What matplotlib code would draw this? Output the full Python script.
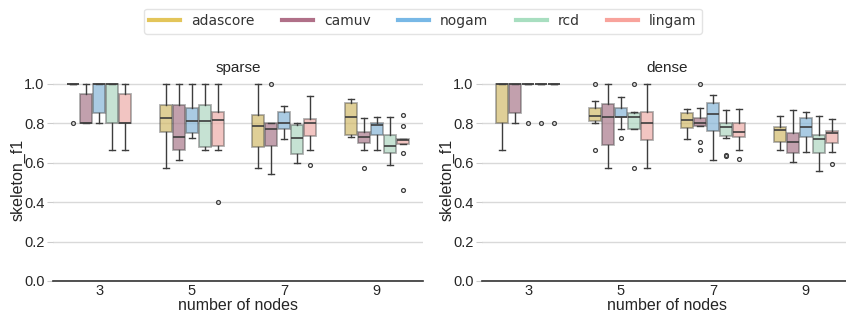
import colorsys
import matplotlib
matplotlib.use("Agg")
import matplotlib.pyplot as plt
import matplotlib.colors as mcolors
from matplotlib.lines import Line2D

methods = ["adascore", "camuv", "nogam", "rcd", "lingam"]
nodes = ["3", "5", "7", "9"]
colors = ["#E3C55A", "#B07088", "#78B8E6", "#A8DEC0", "#F8A39C"]

# ---- sparse: rows = number of nodes, columns = methods ----
sparse_q1 = [[1.0, 0.8, 0.85, 0.8, 0.8],
             [0.755, 0.667, 0.75, 0.682, 0.687],
             [0.68, 0.686, 0.77, 0.643, 0.737],
             [0.74, 0.702, 0.74, 0.65, 0.694]]
sparse_med = [[1.0, 0.8, 1.0, 1.0, 0.8],
              [0.828, 0.733, 0.812, 0.812, 0.815],
              [0.785, 0.769, 0.8, 0.727, 0.8],
              [0.834, 0.731, 0.79, 0.685, 0.714]]
sparse_q3 = [[1.0, 0.947, 1.0, 1.0, 0.95],
             [0.893, 0.893, 0.88, 0.893, 0.857],
             [0.84, 0.8, 0.856, 0.792, 0.822],
             [0.902, 0.755, 0.8, 0.74, 0.719]]
sparse_lo = [[1.0, 0.8, 0.8, 0.667, 0.667],
             [0.571, 0.615, 0.727, 0.667, 0.667],
             [0.571, 0.545, 0.72, 0.6, 0.667],
             [0.729, 0.667, 0.667, 0.588, 0.694]]
sparse_hi = [[1.0, 1.0, 1.0, 1.0, 1.0],
             [1.0, 1.0, 1.0, 1.0, 1.0],
             [1.0, 0.8, 0.889, 0.8, 0.941],
             [0.922, 0.826, 0.831, 0.831, 0.719]]
sparse_fliers = [[[0.8], [], [], [], []],
                 [[], [], [], [], [0.4]],
                 [[], [1.0], [], [], [0.588]],
                 [[], [0.571], [], [], [0.842, 0.786, 0.647, 0.462]]]

# ---- dense ----
dense_q1 = [[0.8, 0.852, 1.0, 1.0, 1.0],
            [0.811, 0.692, 0.833, 0.772, 0.717],
            [0.777, 0.788, 0.762, 0.737, 0.73],
            [0.705, 0.649, 0.73, 0.649, 0.7]]
dense_med = [[1.0, 1.0, 1.0, 1.0, 1.0],
             [0.835, 0.833, 0.833, 0.833, 0.8],
             [0.816, 0.804, 0.848, 0.782, 0.757],
             [0.764, 0.705, 0.781, 0.723, 0.75]]
dense_q3 = [[1.0, 1.0, 1.0, 1.0, 1.0],
            [0.88, 0.897, 0.88, 0.853, 0.857],
            [0.852, 0.828, 0.904, 0.8, 0.8],
            [0.781, 0.75, 0.825, 0.74, 0.759]]
dense_lo = [[0.667, 0.8, 1.0, 1.0, 1.0],
            [0.8, 0.572, 0.769, 0.769, 0.572],
            [0.72, 0.788, 0.616, 0.727, 0.667],
            [0.667, 0.604, 0.653, 0.56, 0.653]]
dense_hi = [[1.0, 1.0, 1.0, 1.0, 1.0],
            [0.911, 1.0, 0.934, 0.857, 1.0],
            [0.875, 0.88, 0.943, 0.87, 0.875],
            [0.836, 0.87, 0.857, 0.835, 0.82]]
dense_fliers = [[[], [], [0.8], [0.8], [0.8]],
                [[1.0, 0.667], [], [0.728], [1.0, 0.572], []],
                [[], [1.0, 0.705, 0.667], [], [0.637, 0.632], [0.62]],
                [[], [], [], [], [0.595]]]

panels = [
    ("sparse", sparse_q1, sparse_med, sparse_q3, sparse_lo, sparse_hi, sparse_fliers),
    ("dense", dense_q1, dense_med, dense_q3, dense_lo, dense_hi, dense_fliers),
]

plt.rcParams["font.family"] = ["Liberation Sans", "DejaVu Sans"]


def desat(c, prop=0.75):
    r, g, b = mcolors.to_rgb(c)
    h, l, s = colorsys.rgb_to_hls(r, g, b)
    return colorsys.hls_to_rgb(h, l, s * prop)


line_col = "#3d3d3d"
edge_rgba = (0.24, 0.24, 0.24, 0.42)
fig = plt.figure(figsize=(8.46, 3.2), dpi=100)
W, H = 846.0, 320.0
ax_lefts = [53, 482]
axes = []
for pi, (title, q1, med, q3, lo, hi, fl) in enumerate(panels):
    ax = fig.add_axes([ax_lefts[pi] / W, 39 / H, 370 / W, 203 / H])
    axes.append(ax)
    nh = len(methods)
    step = 0.14
    for gi in range(len(nodes)):
        for mi in range(nh):
            pos = gi + (mi - (nh - 1) / 2) * step
            stats = [dict(med=med[gi][mi], q1=q1[gi][mi], q3=q3[gi][mi],
                          whislo=lo[gi][mi], whishi=hi[gi][mi],
                          fliers=fl[gi][mi])]
            fc = tuple(desat(colors[mi])) + (0.7,)
            ax.bxp(stats, positions=[pos], widths=0.132, patch_artist=True,
                   manage_ticks=False,
                   boxprops=dict(facecolor=fc, edgecolor=edge_rgba, linewidth=1.3),
                   whiskerprops=dict(color=line_col, linewidth=1.0),
                   capprops=dict(color=line_col, linewidth=1.0),
                   medianprops=dict(color=line_col, linewidth=1.2),
                   flierprops=dict(marker="o", markersize=2.8, markerfacecolor="none",
                                   markeredgecolor=line_col, markeredgewidth=0.9))
    ax.set_xlim(-0.5, len(nodes) - 0.5)
    ax.set_ylim(0, 1.03)
    ax.set_xticks(range(len(nodes)))
    ax.set_xticklabels(nodes)
    ax.set_yticks([0.0, 0.2, 0.4, 0.6, 0.8, 1.0])
    ax.set_yticklabels(["0.0", "0.2", "0.4", "0.6", "0.8", "1.0"])
    ax.grid(axis="y", color="#d9d9d9", linewidth=1.0)
    ax.set_axisbelow(True)
    for s in ["left", "right", "top"]:
        ax.spines[s].set_visible(False)
    ax.spines["bottom"].set_color("#333333")
    ax.spines["bottom"].set_linewidth(1.2)
    ax.tick_params(axis="x", length=0, labelsize=10.5, pad=2, colors="#262626")
    ax.tick_params(axis="y", length=4, color="#cccccc", labelsize=10.5, pad=2,
                   labelcolor="#262626")
    ax.set_title(title, fontsize=11, pad=4, color="#262626")
    ax.set_ylabel("skeleton_f1", fontsize=11.5, labelpad=-1, color="#262626")
    ax.set_xlabel("number of nodes", fontsize=11.5, labelpad=0, color="#262626")

handles = [Line2D([0], [0], color=c, lw=3) for c in colors]
fig.legend(handles, methods, loc="upper center", bbox_to_anchor=(0.5, 0.995),
           ncol=5, frameon=True, prop=dict(family="DejaVu Sans", size=10),
           handlelength=2.2, columnspacing=2.0, edgecolor="#dddddd",
           fancybox=True, borderpad=0.4, labelcolor="#333333")

fig.savefig("out.png", dpi=100)
